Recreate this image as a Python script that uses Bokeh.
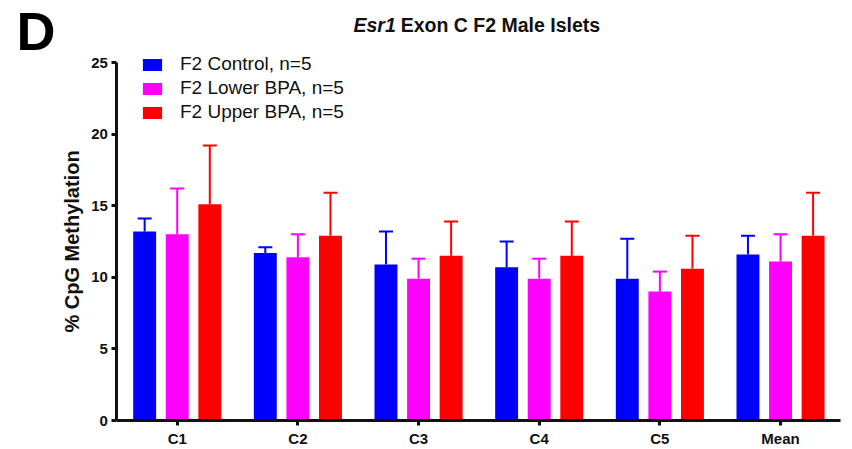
from bokeh.plotting import figure
from bokeh.models import (ColumnDataSource, Range1d, Whisker, TeeHead,
                          Legend, LegendItem, Label, FixedTicker)
from bokeh.transform import dodge
from bokeh.embed import file_html
from bokeh.resources import INLINE

groups = ["C1", "C2", "C3", "C4", "C5", "Mean"]
series_names = ["F2 Control, n=5", "F2 Lower BPA, n=5", "F2 Upper BPA, n=5"]
control_mean = [13.2, 11.7, 10.9, 10.7, 9.9, 11.6]
control_sd = [0.9, 0.4, 2.3, 1.8, 2.8, 1.3]
lower_mean = [13.0, 11.4, 9.9, 9.9, 9.0, 11.1]
lower_sd = [3.2, 1.6, 1.4, 1.4, 1.4, 1.9]
upper_mean = [15.1, 12.9, 11.5, 11.5, 10.6, 12.9]
upper_sd = [4.1, 3.0, 2.4, 2.4, 2.3, 3.0]
y_ticks = [0, 5, 10, 15, 20, 25]
colors = ["#0000FF", "#FF00FF", "#FF0000"]

means = [control_mean, lower_mean, upper_mean]
sds = [control_sd, lower_sd, upper_sd]
offsets = [-0.27, 0.0, 0.27]
group_pos = [i + 0.5 for i in range(len(groups))]

FONT = "Liberation Sans"

p = figure(x_range=Range1d(-0.9647, 6.0965), y_range=Range1d(-2.025, 29.33),
           width=852, height=449, output_backend="svg", toolbar_location=None,
           min_border=0)

items = []
for name, m, s, off, c in zip(series_names, means, sds, offsets, colors):
    src = ColumnDataSource(dict(pos=group_pos, mean=m,
                                hi=[a + b for a, b in zip(m, s)]))
    xs = dodge("pos", off)
    w = Whisker(base=xs, lower="mean", upper="hi", source=src,
                line_color=c, line_width=2,
                upper_head=TeeHead(size=14, line_color=c, line_width=2),
                lower_head=None)
    p.add_layout(w)
    r = p.vbar(x=xs, top="mean", width=0.19, source=src,
               fill_color=c, line_color=None)
    items.append(LegendItem(label=name, renderers=[r]))

legend = Legend(items=items, location=(140, 326), padding=0, margin=0,
                border_line_color=None, background_fill_alpha=0,
                glyph_width=24, glyph_height=15, label_height=15,
                label_standoff=16, spacing=2,
                label_text_font=FONT, label_text_font_size="19px",
                label_text_color="#111111")
p.add_layout(legend)

p.xgrid.grid_line_color = None
p.ygrid.grid_line_color = None
p.outline_line_color = None

for ax in (p.xaxis[0], p.yaxis[0]):
    ax.fixed_location = 0
    ax.axis_line_width = 3
    ax.axis_line_color = "#111111"
    ax.major_tick_line_width = 3
    ax.major_tick_line_color = "#111111"
    ax.major_tick_in = 0
    ax.major_tick_out = 5
    ax.minor_tick_line_color = None
    ax.major_label_text_font = FONT
    ax.major_label_text_font_style = "bold"
    ax.major_label_text_color = "#111111"

p.xaxis.bounds = (0, len(groups))
p.xaxis.ticker = FixedTicker(ticks=group_pos)
p.xaxis.major_label_overrides = {pos: g for pos, g in zip(group_pos, groups)}
p.xaxis.major_label_text_font_size = "15px"
p.xaxis.major_label_standoff = 4

p.yaxis.bounds = (0, 25)
p.yaxis.ticker = FixedTicker(ticks=y_ticks)
p.yaxis.major_label_text_font_size = "15px"
p.yaxis.major_label_standoff = 4
p.yaxis.axis_label = "% CpG Methylation"
p.yaxis.axis_label_text_font = FONT
p.yaxis.axis_label_text_font_size = "20px"
p.yaxis.axis_label_text_font_style = "bold"
p.yaxis.axis_label_text_color = "#111111"
p.yaxis.axis_label_standoff = 5

# Panel letter and title
p.add_layout(Label(x=-0.832, y=27.235, text="D", text_font=FONT,
                   text_font_size="54px", text_font_style="bold",
                   text_color="#000000", text_baseline="alphabetic"))
p.add_layout(Label(x=1.961, y=27.654, text="Esr1", text_font=FONT,
                   text_font_size="19.5px", text_font_style="bold italic",
                   text_color="#111111", text_baseline="alphabetic"))
p.add_layout(Label(x=2.352, y=27.654, text="Exon C F2 Male Islets", text_font=FONT,
                   text_font_size="19.5px", text_font_style="bold",
                   text_color="#111111", text_baseline="alphabetic"))

open("out.html", "w").write(file_html(p, INLINE))
